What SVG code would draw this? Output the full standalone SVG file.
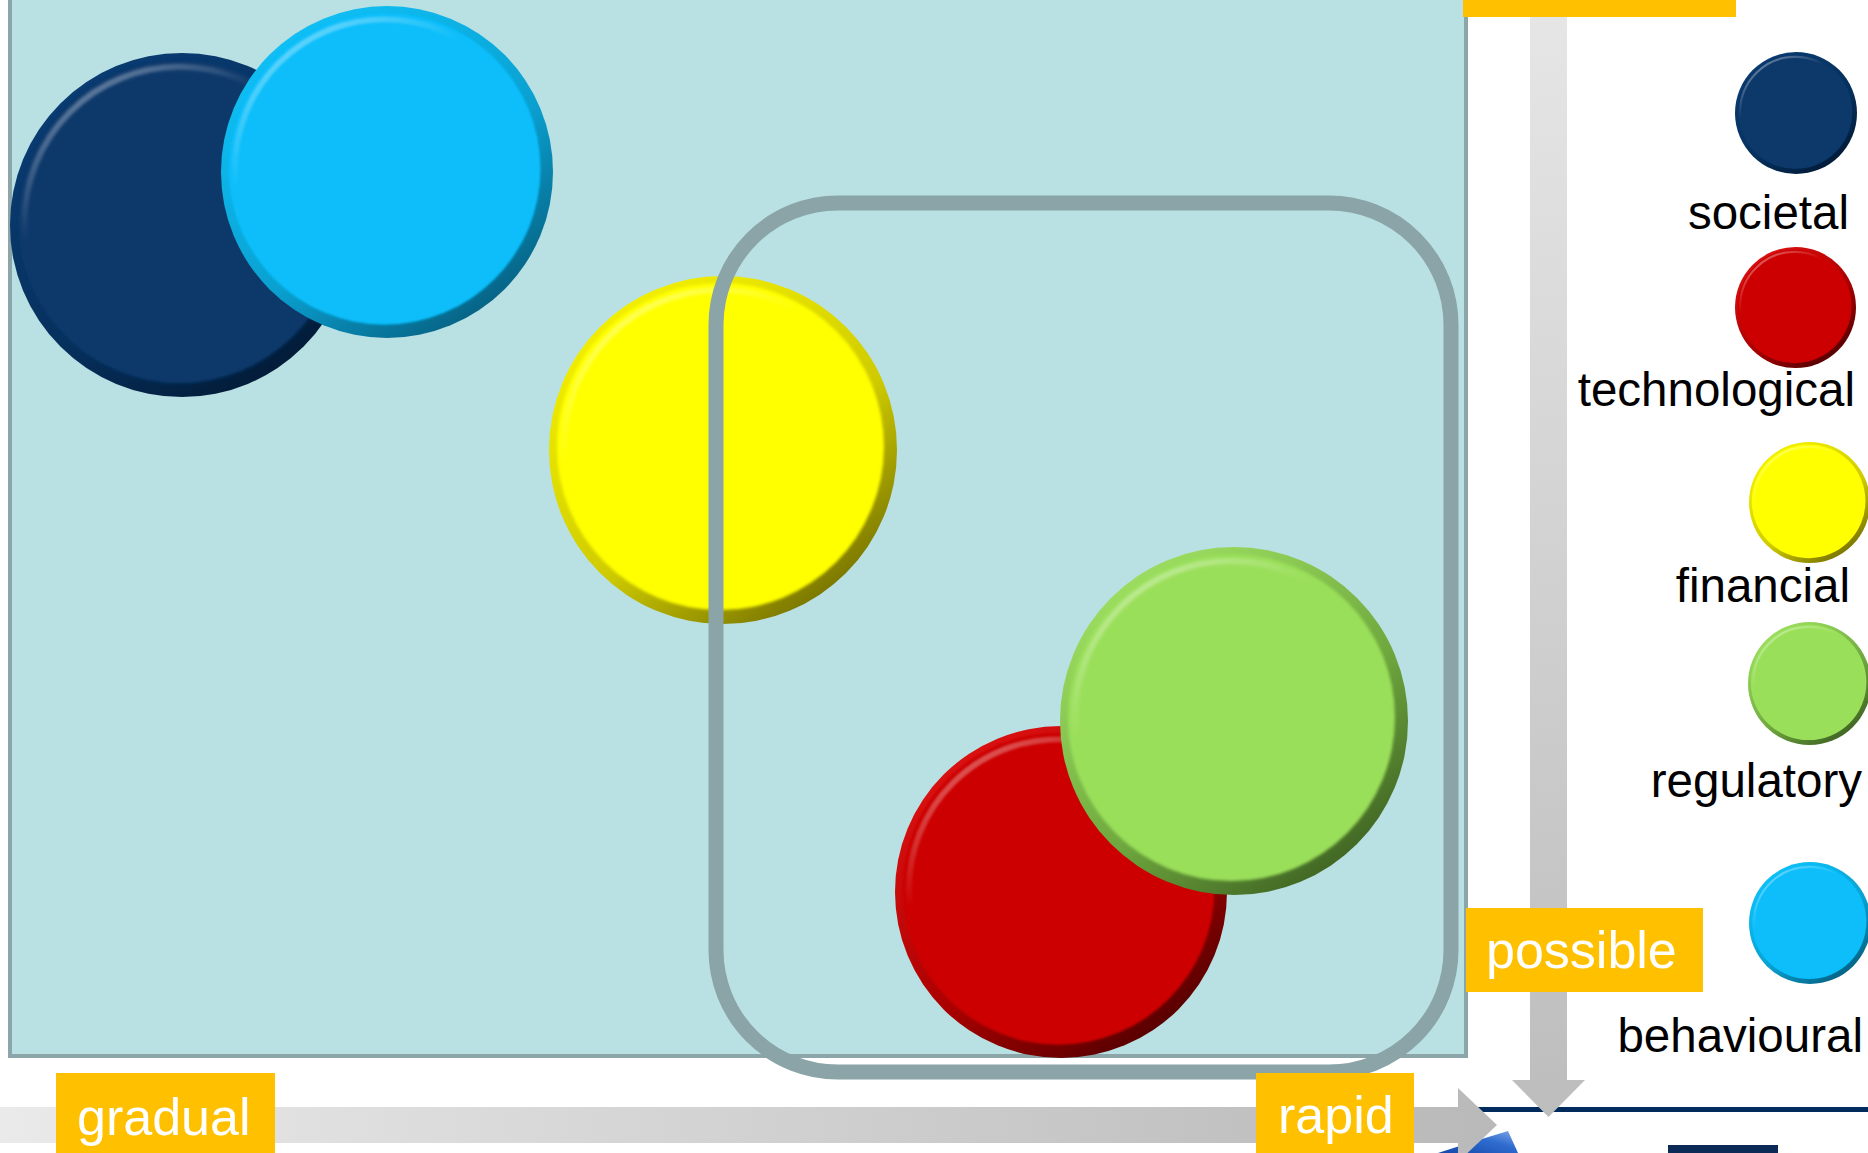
<svg xmlns="http://www.w3.org/2000/svg" width="1868" height="1153" viewBox="0 0 1868 1153">
<style>
.label{font-family:"Liberation Sans",Arial,sans-serif;font-size:52px;fill:#FFFFFF}
.legend{font-family:"Liberation Sans",Arial,sans-serif;font-size:47.5px;fill:#000000;text-anchor:end}
.tag{fill:#FFC000}
</style>
<defs>
<linearGradient id="hGrad" gradientUnits="userSpaceOnUse" x1="0" y1="0" x2="1497" y2="0">
<stop offset="0" stop-color="#EAEAEA"/><stop offset="1" stop-color="#B9B9B9"/>
</linearGradient>
<linearGradient id="vGrad" gradientUnits="userSpaceOnUse" x1="0" y1="0" x2="0" y2="1117">
<stop offset="0" stop-color="#E6E6E6"/><stop offset="1" stop-color="#BDBDBD"/>
</linearGradient>
<linearGradient id="logoGrad" x1="0" y1="1" x2="1" y2="0">
<stop offset="0" stop-color="#1448A8"/><stop offset="0.6" stop-color="#2F6CD0"/><stop offset="1" stop-color="#7FA8E6"/>
</linearGradient>
<linearGradient id="hl" x1="0.2" y1="0" x2="0.6" y2="0.6">
<stop offset="0" stop-color="#FFFFFF" stop-opacity="0.4"/><stop offset="0.5" stop-color="#FFFFFF" stop-opacity="0"/>
</linearGradient>
<filter id="soft" x="-5%" y="-5%" width="110%" height="110%"><feGaussianBlur stdDeviation="0.8"/></filter>
<linearGradient id="rimNavy" x1="0.15" y1="0.05" x2="0.8" y2="0.95">
<stop offset="0" stop-color="#0A3C74"/><stop offset="0.6" stop-color="#06305C"/><stop offset="1" stop-color="#021A36"/>
</linearGradient>
<linearGradient id="rimCyan" x1="0.15" y1="0.05" x2="0.8" y2="0.95">
<stop offset="0" stop-color="#10C2F8"/><stop offset="0.6" stop-color="#0AA0D0"/><stop offset="1" stop-color="#065F80"/>
</linearGradient>
<linearGradient id="rimYellow" x1="0.15" y1="0.05" x2="0.8" y2="0.95">
<stop offset="0" stop-color="#F5F200"/><stop offset="0.6" stop-color="#CFCB00"/><stop offset="1" stop-color="#757100"/>
</linearGradient>
<linearGradient id="rimRed" x1="0.15" y1="0.05" x2="0.8" y2="0.95">
<stop offset="0" stop-color="#E01212"/><stop offset="0.6" stop-color="#A80000"/><stop offset="1" stop-color="#520000"/>
</linearGradient>
<linearGradient id="rimGreen" x1="0.15" y1="0.05" x2="0.8" y2="0.95">
<stop offset="0" stop-color="#A0E264"/><stop offset="0.6" stop-color="#6FA83E"/><stop offset="1" stop-color="#3E6222"/>
</linearGradient>
<symbol id="btnNavy" viewBox="-100 -100 200 200">
<circle r="100" fill="url(#rimNavy)"/><circle cx="-1.5" cy="-2" r="94" fill="#07386B" filter="url(#soft)"/><circle cx="-1.5" cy="-2" r="90" fill="none" stroke="url(#hl)" stroke-width="3.5" filter="url(#soft)"/>
</symbol>
<symbol id="btnCyan" viewBox="-100 -100 200 200">
<circle r="100" fill="url(#rimCyan)"/><circle cx="-1.5" cy="-2" r="94" fill="#07BEFA" filter="url(#soft)"/><circle cx="-1.5" cy="-2" r="90" fill="none" stroke="url(#hl)" stroke-width="3.5" filter="url(#soft)"/>
</symbol>
<symbol id="btnYellow" viewBox="-100 -100 200 200">
<circle r="100" fill="url(#rimYellow)"/><circle cx="-1.5" cy="-2" r="94" fill="#FFFF00" filter="url(#soft)"/><circle cx="-1.5" cy="-2" r="90" fill="none" stroke="url(#hl)" stroke-width="3.5" filter="url(#soft)"/>
</symbol>
<symbol id="btnRed" viewBox="-100 -100 200 200">
<circle r="100" fill="url(#rimRed)"/><circle cx="-1.5" cy="-2" r="94" fill="#CC0505" filter="url(#soft)"/><circle cx="-1.5" cy="-2" r="90" fill="none" stroke="url(#hl)" stroke-width="3.5" filter="url(#soft)"/>
</symbol>
<symbol id="btnGreen" viewBox="-100 -100 200 200">
<circle r="100" fill="url(#rimGreen)"/><circle cx="-1.5" cy="-2" r="94" fill="#9ADF5A" filter="url(#soft)"/><circle cx="-1.5" cy="-2" r="90" fill="none" stroke="url(#hl)" stroke-width="3.5" filter="url(#soft)"/>
</symbol>
</defs>

<rect width="1868" height="1153" fill="#FFFFFF"/>

<g id="background-logo">
<rect x="1460" y="1107" width="408" height="5" fill="#002B5C"/>
<polygon points="1438,1153 1472,1142 1508,1131 1518,1153" fill="url(#logoGrad)"/>
<rect x="1668" y="1145" width="110" height="8" fill="#0B2A55"/>
</g>

<g id="axes">
<path d="M0,1107 H1458 V1088 L1497,1125 L1458,1162 V1143 H0 Z" fill="url(#hGrad)"/>
<path d="M1530,0 V1080 H1512 L1548.5,1117 L1585,1080 H1567 V0 Z" fill="url(#vGrad)"/>
</g>

<g id="plot-area">
<rect x="10" y="-5" width="1456" height="1061" fill="#B9E0E3" stroke="#8BA5A8" stroke-width="4"/>
</g>

<g id="node-societal"><use href="#btnNavy" x="10" y="53" width="344" height="344"/></g>
<g id="node-behavioural"><use href="#btnCyan" x="221" y="6" width="332" height="332"/></g>
<g id="node-financial"><use href="#btnYellow" x="549" y="276" width="348" height="348"/></g>
<g id="node-technological"><use href="#btnRed" x="895" y="726" width="332" height="332"/></g>
<g id="node-regulatory"><use href="#btnGreen" x="1060" y="547" width="348" height="348"/></g>

<g id="group-outline">
<rect x="716" y="203" width="735" height="869" rx="122" ry="122" fill="none" stroke="#8AA4A7" stroke-width="15"/>
</g>

<g id="label-top"><rect class="tag" x="1463" y="0" width="273" height="17"/></g>
<g id="label-gradual"><rect class="tag" x="56" y="1073" width="219" height="85"/><text class="label" x="77" y="1135">gradual</text></g>
<g id="label-rapid"><rect class="tag" x="1256" y="1073" width="158" height="85"/><text class="label" x="1278" y="1133">rapid</text></g>
<g id="label-possible"><rect class="tag" x="1466" y="908" width="237" height="84"/><text class="label" x="1486" y="968">possible</text></g>

<g id="legend">
<g id="legend-societal"><use href="#btnNavy" x="1735" y="52" width="122" height="122"/><text class="legend" x="1849" y="229">societal</text></g>
<g id="legend-technological"><use href="#btnRed" x="1735" y="247" width="121" height="121"/><text class="legend" x="1855" y="406">technological</text></g>
<g id="legend-financial"><use href="#btnYellow" x="1749" y="442" width="121" height="121"/><text class="legend" x="1850" y="602">financial</text></g>
<g id="legend-regulatory"><use href="#btnGreen" x="1748" y="622" width="123" height="123"/><text class="legend" x="1862" y="797">regulatory</text></g>
<g id="legend-behavioural"><use href="#btnCyan" x="1749" y="862" width="122" height="122"/><text class="legend" x="1863" y="1052">behavioural</text></g>
</g>
</svg>
